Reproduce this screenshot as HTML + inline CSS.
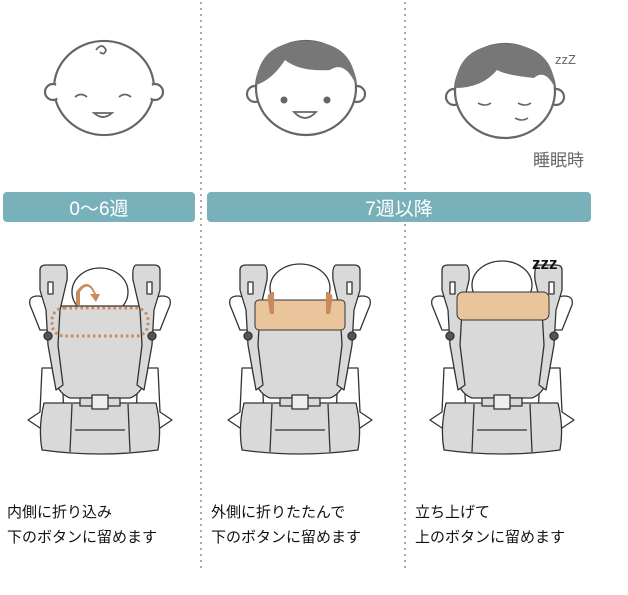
<!DOCTYPE html>
<html><head><meta charset="utf-8"><style>
html,body{margin:0;padding:0;background:#fff;width:628px;height:595px;overflow:hidden}
svg{display:block}
text{font-family:"Liberation Sans","Noto Sans CJK JP",sans-serif}
</style></head><body>
<svg width="628" height="595" viewBox="0 0 628 595" xmlns="http://www.w3.org/2000/svg">
<defs>
<g id="carrier" stroke="#333" stroke-width="1.3" stroke-linejoin="round">
  <path d="M42,368 L62,368 L64,420 L40,428 L28,420 L40,412 Z" fill="#fff"/>
  <path d="M158,368 L138,368 L136,420 L160,428 L172,420 L160,412 Z" fill="#fff"/>
  <path d="M30,305 Q28,296 38,296 Q48,296 48,310 L52,330 L40,330 Z" fill="#fff"/>
  <path d="M170,305 Q172,296 162,296 Q152,296 152,310 L148,330 L160,330 Z" fill="#fff"/>
  <path d="M50,306 L150,306 L148,365 Q146,392 130,398 L70,398 Q54,392 52,365 Z" fill="#d9d9d9"/>
  <path d="M40,270 Q40,265 46,265 L64,265 Q68,266 67,280 L60,310 L58,345 L63,385 L56,390 L48,345 L46,310 L40,290 Z" fill="#d9d9d9"/>
  <path d="M160,270 Q160,265 154,265 L136,265 Q132,266 133,280 L140,310 L142,345 L137,385 L144,390 L152,345 L154,310 L160,290 Z" fill="#d9d9d9"/>
  <path d="M44,403 L156,403 Q162,428 158,450 Q100,458 42,450 Q38,428 44,403 Z" fill="#d9d9d9"/>
  <line x1="72" y1="404" x2="70" y2="452" />
  <line x1="128" y1="404" x2="130" y2="452" />
  <line x1="75" y1="430" x2="125" y2="430" />
  <rect x="80" y="398" width="40" height="8" fill="#d9d9d9"/>
  <rect x="92" y="395" width="16" height="14" fill="#eee"/>
  <circle cx="48" cy="336" r="4" fill="#555"/>
  <circle cx="152" cy="336" r="4" fill="#555"/>
  <rect x="48" y="282" width="5" height="12" fill="#fff"/>
  <rect x="147" y="282" width="5" height="12" fill="#fff"/>
</g>
</defs>

<line x1="201" y1="2" x2="201" y2="572" stroke="#aaa" stroke-width="2" stroke-dasharray="2 4"/>
<line x1="405" y1="2" x2="405" y2="572" stroke="#aaa" stroke-width="2" stroke-dasharray="2 4"/>

<g stroke="#666" stroke-width="2.2" fill="#fff">
  <ellipse cx="104" cy="88" rx="50" ry="47"/>
  <circle cx="53" cy="92" r="8"/><circle cx="155" cy="92" r="8"/>
  <ellipse cx="104" cy="88" rx="48" ry="46" stroke="none"/>
  <path d="M96,50 q6,-8 10,0 q-2,6 -6,2" fill="none" stroke-width="1.8"/>
  <path d="M75,97 q6,-5 12,0 M119,97 q6,-5 12,0" fill="none" stroke-width="1.8"/>
  <path d="M94,113 q9,8 18,0 z" fill="#fff" stroke-width="1.8"/>
</g>
<g stroke="#666" stroke-width="2.2">
  <circle cx="255" cy="94" r="8" fill="#fff"/><circle cx="357" cy="94" r="8" fill="#fff"/>
  <ellipse cx="306" cy="88" rx="50" ry="47" fill="#fff"/>
  <path d="M256,85 Q258,42 306,41 Q354,42 356,85 Q345,60 330,70 Q300,72 285,60 Q272,80 256,85 Z" fill="#777" stroke="none"/>
  <circle cx="284" cy="100" r="3.5" fill="#666" stroke="none"/>
  <circle cx="327" cy="100" r="3.5" fill="#666" stroke="none"/>
  <path d="M294,112 q11,12 22,0 z" fill="#fff" stroke-width="1.8"/>
</g>
<g stroke="#666" stroke-width="2.2">
  <circle cx="454" cy="97" r="8" fill="#fff"/><circle cx="556" cy="97" r="8" fill="#fff"/>
  <ellipse cx="505" cy="91" rx="50" ry="47" fill="#fff"/>
  <path d="M455,88 Q457,45 505,44 Q553,45 555,88 Q545,68 534,78 Q505,75 497,70 Q482,88 455,88 Z" fill="#777" stroke="none"/>
  <path d="M497,78 Q528,90 537,78" stroke="#fff" stroke-width="2" fill="none"/>
  <path d="M478,103 q7,4 13,0 M518,103 q7,4 13,0 M515,118 q7,4 13,0" fill="none" stroke-width="1.6"/>
</g>
<text x="555" y="64" font-size="13" fill="#666">zzZ</text>
<text x="533" y="166" font-size="17" fill="#666">睡眠時</text>

<rect x="3" y="192" width="192" height="30" rx="4" fill="#78b1b9"/>
<text x="99" y="215" font-size="19" fill="#fff" text-anchor="middle">0〜6週</text>
<rect x="207" y="192" width="384" height="30" rx="4" fill="#78b1b9"/>
<text x="399" y="215" font-size="19" fill="#fff" text-anchor="middle">7週以降</text>

<g>
  <ellipse cx="100" cy="292" rx="28" ry="24" fill="#fff" stroke="#333" stroke-width="1.3"/>
  <use href="#carrier"/>
  <rect x="52" y="308" width="96" height="28" rx="12" fill="none" stroke="#c98a5e" stroke-width="3" stroke-dasharray="2.5 3"/>
  <path d="M80,305 L80,292 Q88,280 94,294 L90,294 L96,302 L100,294 L96,294 Q88,275 76,292 L76,305 Z" fill="#c98a5e"/>
</g>
<g transform="translate(200,0)">
  <ellipse cx="100" cy="288" rx="30" ry="24" fill="#fff" stroke="#333" stroke-width="1.3"/>
  <use href="#carrier"/>
  <rect x="55" y="300" width="90" height="30" rx="4" fill="#eac59b" stroke="#333" stroke-width="1"/>
  <path d="M68,302 Q66,292 74,292 L74,314 L70,314 Z" fill="#c98a5e"/>
  <path d="M132,302 Q134,292 126,292 L126,314 L130,314 Z" fill="#c98a5e"/>
</g>
<g transform="translate(402,0)">
  <ellipse cx="100" cy="285" rx="30" ry="24" fill="#fff" stroke="#333" stroke-width="1.3"/>
  <use href="#carrier"/>
  <rect x="55" y="292" width="92" height="28" rx="6" fill="#eac59b" stroke="#333" stroke-width="1"/>
</g>
<text x="532" y="269" font-size="17" font-weight="bold" fill="#111">zzz</text>

<g font-size="15" fill="#111">
  <text x="7" y="517">内側に折り込み</text>
  <text x="7" y="542">下のボタンに留めます</text>
  <text x="211" y="517">外側に折りたたんで</text>
  <text x="211" y="542">下のボタンに留めます</text>
  <text x="415" y="517">立ち上げて</text>
  <text x="415" y="542">上のボタンに留めます</text>
</g>
</svg>
</body></html>
